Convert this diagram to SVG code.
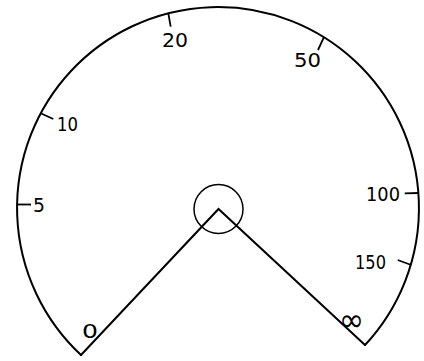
<svg xmlns="http://www.w3.org/2000/svg" width="424" height="361" viewBox="0 0 424 361">
<style>
.ln{fill:none;stroke:#000;stroke-width:2;stroke-linecap:round;stroke-linejoin:miter}
.tk{fill:none;stroke:#000;stroke-width:1.8}
.lb{font-family:"DejaVu Sans",sans-serif;font-size:20px;fill:#000}
</style>
<rect width="424" height="361" fill="#fff"/>
<g id="connectors">
<path class="ln" d="M 81 355 A 201 201 0 1 1 365 345"/>
<path class="ln" d="M 81 355 L 218.5 209 L 365 345"/>
</g>
<g id="hub"><circle cx="218.5" cy="209" r="24.5" fill="none" stroke="#000" stroke-width="1.5"/></g>
<g id="ticks">
<line class="tk" x1="17" y1="204.5" x2="31" y2="204.5"/>
<line class="tk" x1="40.7" y1="113.3" x2="53.3" y2="119"/>
<line class="tk" x1="168.3" y1="13.3" x2="170.7" y2="26.7"/>
<line class="tk" x1="323.7" y1="37.7" x2="318" y2="50"/>
<line class="tk" x1="404.7" y1="193.3" x2="418.5" y2="193"/>
<line class="tk" x1="397.7" y1="260" x2="411.3" y2="265"/>
</g>
<g id="labels">
<text class="lb" x="33" y="212" textLength="12" lengthAdjust="spacingAndGlyphs">5</text>
<text class="lb" x="57" y="131" textLength="21" lengthAdjust="spacingAndGlyphs">10</text>
<text class="lb" x="162" y="47" textLength="26" lengthAdjust="spacingAndGlyphs">20</text>
<text class="lb" x="294" y="67" textLength="27" lengthAdjust="spacingAndGlyphs">50</text>
<text class="lb" x="366" y="201" textLength="34" lengthAdjust="spacingAndGlyphs">100</text>
<text class="lb" x="355" y="268.5" textLength="31" lengthAdjust="spacingAndGlyphs">150</text>
<text class="lb" x="82" y="337.5" textLength="16" lengthAdjust="spacingAndGlyphs">0</text>
<text x="339" y="331" font-family="DejaVu Sans,sans-serif" font-size="32" textLength="25" lengthAdjust="spacingAndGlyphs">∞</text>
</g>
</svg>
